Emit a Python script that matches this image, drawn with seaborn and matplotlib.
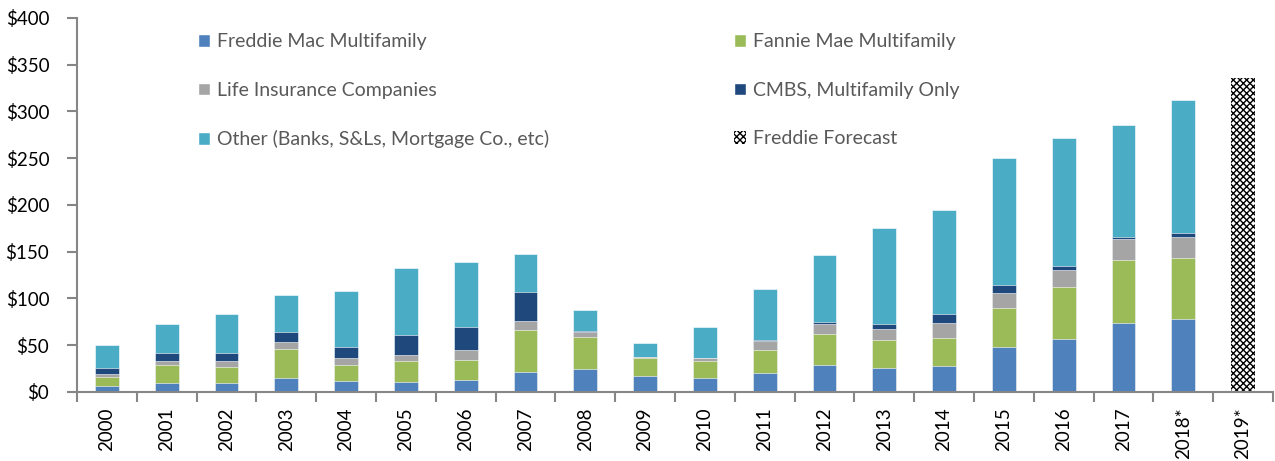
import matplotlib
matplotlib.use("Agg")
import matplotlib.pyplot as plt
from matplotlib.patches import Patch
from matplotlib.ticker import FixedLocator, FuncFormatter
import numpy as np
import pandas as pd
import seaborn as sns

# Multifamily origination volume ($bn) by lender type
years = ['2000', '2001', '2002', '2003', '2004', '2005', '2006', '2007', '2008', '2009',
         '2010', '2011', '2012', '2013', '2014', '2015', '2016', '2017', '2018*', '2019*']
freddie = [6, 9, 10, 15, 12, 11, 13, 21.5, 24, 16.5, 15, 20, 28.5, 26, 28, 47.5, 57, 73.5, 78, 0]
fannie = [10, 19.5, 17, 31, 17, 22, 21, 45, 34.5, 20, 18, 24.5, 33.5, 29, 29.5, 42, 55, 67.5, 65.5, 0]
life_ins = [3, 4.5, 6, 7, 7, 6.5, 10.5, 9, 6, 0.5, 3, 10, 11, 12, 16.5, 16, 18.5, 22.5, 22.5, 0]
cmbs = [7, 9, 9, 11, 12.5, 21, 25, 31.5, 0.5, 0.2, 0.3, 1, 2, 6, 9, 8.5, 4.5, 2.5, 4, 0]
other = [24, 31, 41, 40, 59, 72.5, 69, 40.5, 23, 15.5, 33, 54.5, 71, 102, 112, 136, 137, 119.5, 142, 0]
forecast = [0] * 19 + [336]

series = ['Freddie Mac Multifamily', 'Fannie Mae Multifamily', 'Life Insurance Companies',
          'CMBS, Multifamily Only', 'Other (Banks, S&Ls, Mortgage Co., etc)']
colors = ['#4F81BD', '#9BBB59', '#A5A5A5', '#1F497D', '#4BACC6']

sns.set_theme(style="white")
plt.rcParams['font.family'] = ['Lato', 'DejaVu Sans']

df = pd.DataFrame({'year': years, series[0]: freddie, series[1]: fannie,
                   series[2]: life_ins, series[3]: cmbs, series[4]: other})
cum = df[series].cumsum(axis=1)

fig = plt.figure(figsize=(12.75, 4.61), dpi=100)
ax = fig.add_axes([0.0604, 0.150, 0.938, 0.811])

# draw cumulative layers from the top down so each segment shows
for name, col in reversed(list(zip(series, colors))):
    sns.barplot(x=df['year'], y=cum[name], order=years, color=col, saturation=1,
                width=0.4, edgecolor='white', linewidth=0.4, ax=ax)

fc = pd.DataFrame({'year': years, 'forecast': forecast})
sns.barplot(data=fc, x='year', y='forecast', order=years, color='white', saturation=1,
            width=0.4, ax=ax)
for p in ax.patches[-len(years):]:
    p.set_hatch('xxxxx')
    p.set_edgecolor('black')
    p.set_linewidth(0)

ax.set_xlim(-0.5, len(years) - 0.5)
ax.set_ylim(0, 400)
ax.yaxis.set_major_locator(FixedLocator(np.arange(0, 401, 50)))
ax.yaxis.set_major_formatter(FuncFormatter(lambda v, _: f'${v:.0f}'))
ax.set_xlabel('')
ax.set_ylabel('')

ax.set_xticks(range(len(years)))
ax.set_xticklabels(years, rotation=90, fontsize=13.5, color='black')
ax.set_xticks(np.arange(-0.5, len(years)), minor=True)
ax.tick_params(axis='x', which='major', length=0, pad=11)
ax.tick_params(axis='x', which='minor', length=7, width=1.5, color='#868686', direction='out')
ax.tick_params(axis='y', length=7, width=1.5, color='#868686', direction='out',
               labelsize=13.5, labelcolor='black', pad=13)
ax.tick_params(axis='both', bottom=True, left=True, which='both')

sns.despine(ax=ax)
for s in ['left', 'bottom']:
    ax.spines[s].set_color('#868686')
    ax.spines[s].set_linewidth(1.5)

handles = [Patch(facecolor=colors[0]), Patch(facecolor=colors[2]), Patch(facecolor=colors[4]),
           Patch(facecolor=colors[1]), Patch(facecolor=colors[3]),
           Patch(facecolor='white', hatch='xxxxx', edgecolor='black', linewidth=0)]
labels = [series[0], series[2], series[4], series[1], series[3], 'Freddie Forecast']
leg = ax.legend(handles, labels, ncol=2, loc='upper left', bbox_to_anchor=(0.095, 0.98),
                frameon=False, fontsize=14, handlelength=0.62, handleheight=0.62,
                handletextpad=0.35, labelspacing=1.62, columnspacing=9.5, borderaxespad=0)
for t in leg.get_texts():
    t.set_color('#595959')

fig.savefig('out.png', dpi=100)
